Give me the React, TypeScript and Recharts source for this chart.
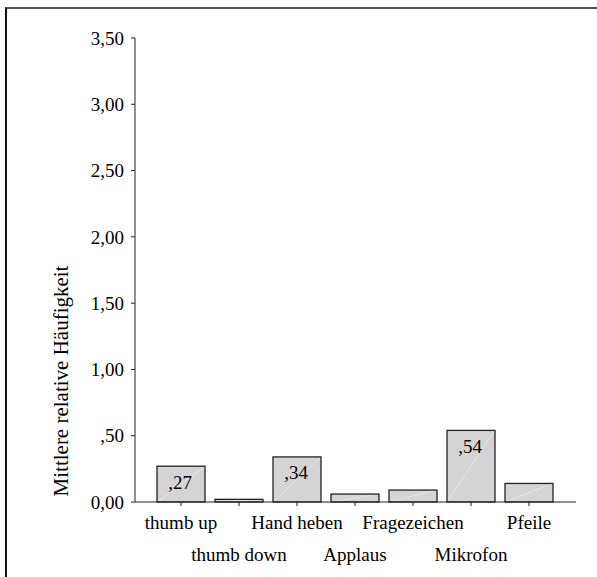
import { BarChart, Bar, XAxis, YAxis, LabelList } from "recharts";

const categories = [
  "thumb up",
  "thumb down",
  "Hand heben",
  "Applaus",
  "Fragezeichen",
  "Mikrofon",
  "Pfeile",
];
const meanValues = [0.27, 0.02, 0.34, 0.06, 0.09, 0.54, 0.14];
const yTicks = [0, 0.5, 1, 1.5, 2, 2.5, 3, 3.5];

const data = categories.map((name, i) => ({ name, value: meanValues[i] }));

const FONT = "Liberation Serif, serif";

// SPSS-style German number format: 0,00 / ,50 / 1,00
const fmt = (v: number) => {
  if (v === 0) return "0,00";
  const s = v.toFixed(2).replace(".", ",");
  return s.startsWith("0") ? s.slice(1) : s;
};

const textStyle = { fontFamily: FONT, fontSize: 19 };

const StaggeredTick = (props: any) => {
  const { x, y, payload, index } = props;
  const dy = index % 2 === 0 ? 18 : 50;
  return (
    <text
      x={x}
      y={y - 4 + dy}
      textAnchor="middle"
      dominantBaseline="central"
      style={textStyle}
      fill="#000"
    >
      {payload.value}
    </text>
  );
};

const GrayBar = (props: any) => {
  const { x, y, width, height } = props;
  if (height <= 0) return null;
  return (
    <g>
      <rect x={x} y={y} width={width} height={height} fill="#d4d4d4" />
      <line
        x1={x}
        y1={y + height}
        x2={x + width}
        y2={y}
        stroke="#e6e6e6"
        strokeWidth={1}
      />
      <rect
        x={x}
        y={y}
        width={width}
        height={height}
        fill="none"
        stroke="#222"
        strokeWidth={1.3}
      />
    </g>
  );
};

const ValueLabel = (props: any) => {
  const { x, y, width, value } = props;
  if (value < 0.2) return null;
  return (
    <text
      x={x + width / 2 - 1}
      y={y + 16}
      textAnchor="middle"
      dominantBaseline="central"
      style={textStyle}
      fill="#000"
    >
      {fmt(value)}
    </text>
  );
};

const YTitle = () => {
  const cx = 61;
  const cy = 381;
  return (
    <text
      x={cx}
      y={cy}
      transform={`rotate(-90 ${cx} ${cy})`}
      textAnchor="middle"
      dominantBaseline="central"
      style={{ fontFamily: FONT, fontSize: 21 }}
      fill="#000"
    >
      Mittlere relative Häufigkeit
    </text>
  );
};

export default function App() {
  return (
    <div
      style={{
        position: "absolute",
        left: 0,
        top: 0,
        width: 597,
        height: 577,
        background: "#fff",
        fontFamily: FONT,
      }}
    >
      <div
        style={{
          position: "absolute",
          left: 5,
          top: 7,
          width: 592,
          height: 570,
          borderTop: "2px solid #555",
          borderLeft: "2px solid #111",
          boxSizing: "border-box",
        }}
      />
      <BarChart
        width={597}
        height={577}
        data={data}
        margin={{ top: 38, right: 21, bottom: 0, left: 0 }}
        style={{ position: "absolute", left: 0, top: 0, fontFamily: FONT }}
      >
        <XAxis
          dataKey="name"
          height={75}
          padding={{ left: 17, right: 18 }}
          tick={<StaggeredTick />}
          interval={0}
          tickSize={4}
          stroke="#222"
          tickLine={{ stroke: "#222" }}
        />
        <YAxis
          width={135}
          domain={[0, 3.5]}
          ticks={yTicks}
          tickFormatter={fmt}
          tickSize={4}
          tickMargin={7}
          stroke="#222"
          tick={{ fill: "#000", style: textStyle }}
          label={<YTitle />}
        />
        <Bar
          dataKey="value"
          barSize={48}
          shape={<GrayBar />}
          isAnimationActive={false}
        >
          <LabelList dataKey="value" content={<ValueLabel />} />
        </Bar>
      </BarChart>
    </div>
  );
}
